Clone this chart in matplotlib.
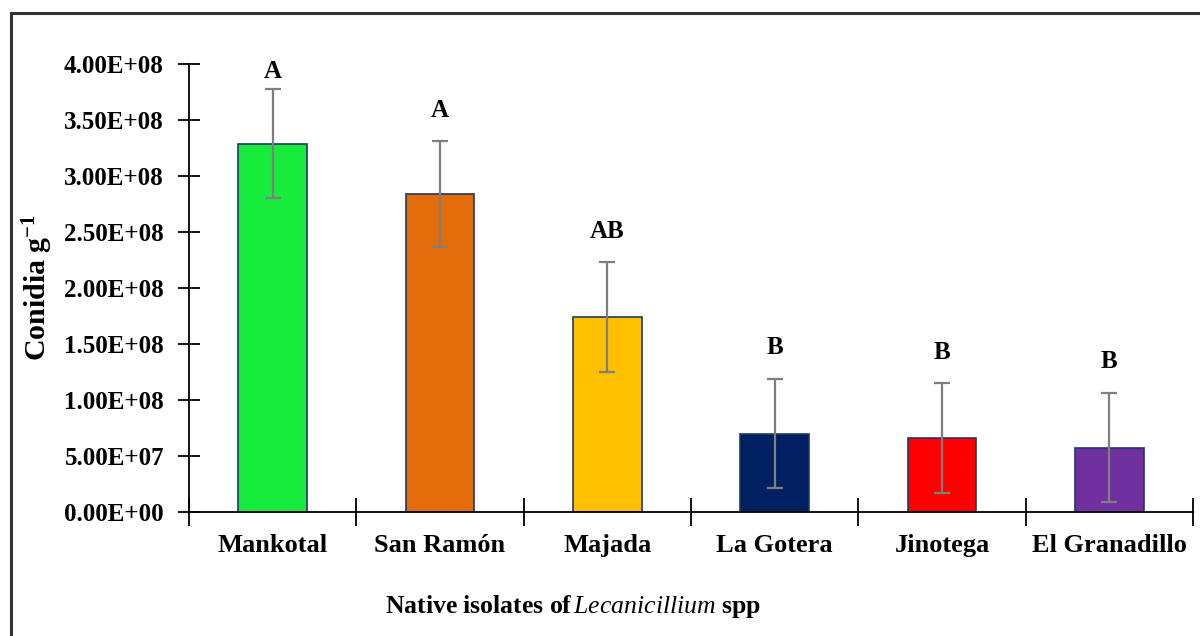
import matplotlib
matplotlib.use('Agg')
import matplotlib.pyplot as plt
from matplotlib.patches import Rectangle
from matplotlib.ticker import FixedLocator

plt.rcParams['font.family'] = 'Liberation Serif'
plt.rcParams['mathtext.fontset'] = 'custom'
plt.rcParams['mathtext.rm'] = 'Liberation Serif:bold'
plt.rcParams['mathtext.bf'] = 'Liberation Serif:bold'
plt.rcParams['mathtext.it'] = 'Liberation Serif:italic'

#  ------- Data -------  #
isolates = ['Mankotal', 'San Ramón', 'Majada', 'La Gotera', 'Jinotega', 'El Granadillo']
conidia = [3.29e8, 2.84e8, 1.74e8, 0.70e8, 0.66e8, 0.575e8]
errors = [0.49e8, 0.47e8, 0.49e8, 0.49e8, 0.49e8, 0.49e8]
groups = ['A', 'A', 'AB', 'B', 'B', 'B']
colors = ['#17EB3C', '#E36C0A', '#FFC000', '#002060', '#FF0000', '#7030A0']
yticks = [0, 0.5e8, 1.0e8, 1.5e8, 2.0e8, 2.5e8, 3.0e8, 3.5e8, 4.0e8]
ytick_labels = ['0.00E+00', '5.00E+07', '1.00E+08', '1.50E+08', '2.00E+08',
                '2.50E+08', '3.00E+08', '3.50E+08', '4.00E+08']

#  ------- Plot -------  #
fig = plt.figure(figsize=(12, 6.36), dpi=100)
ax = fig.add_axes([0.1575, 0.195, 0.8367, 0.7044])

x = list(range(len(isolates)))
ax.bar(x, conidia, width=0.41, color=colors, edgecolor='#1F3864', linewidth=1.2,
       yerr=errors, error_kw=dict(ecolor='#7F7F7F', elinewidth=1.6, capsize=5.8, capthick=1.6),
       zorder=2)

# significance letters above the error bars, kept inside the plot top
for xi, v, e, g in zip(x, conidia, errors, groups):
    ax.text(xi, min(v + e + 0.275e8, 3.93e8), g, ha='center', va='center',
            fontsize=18, fontweight='bold')

ax.set_xlim(-0.5, len(isolates) - 0.5)
ax.set_ylim(0, 4e8)
ax.set_yticks(yticks)
ax.set_yticklabels(ytick_labels, fontsize=18, fontweight='bold')
ax.set_xticks(x)
ax.set_xticklabels(isolates, fontsize=19, fontweight='bold')
ax.xaxis.set_minor_locator(FixedLocator([i - 0.5 for i in range(len(isolates) + 1)]))
ax.tick_params(axis='x', which='major', length=0, pad=16)
ax.tick_params(axis='x', which='minor', direction='inout', length=20, width=1.3)
ax.tick_params(axis='y', direction='inout', length=16, width=1.3, pad=10)

for s in ['top', 'right']:
    ax.spines[s].set_visible(False)
for s in ['left', 'bottom']:
    ax.spines[s].set_linewidth(1.3)

ax.set_ylabel(r'$\mathbf{Conidia\ g^{-1}}$', fontsize=21.5)
ax.yaxis.set_label_coords(-0.133, 0.5)
fig.text(573 / 1200, 1 - 607 / 636,
         r'$\mathrm{Native\ isolates\ of\,}\mathit{Lecanicillium}\mathrm{\ spp}$',
         ha='center', va='center', fontsize=18.5)

# outer frame
fig.patches.append(Rectangle((11 / 1200, -0.1), 1.2, 1.1 - 13 / 636, transform=fig.transFigure,
                             fill=False, edgecolor='#333333', linewidth=2.2))

fig.savefig('out.png', dpi=100)
